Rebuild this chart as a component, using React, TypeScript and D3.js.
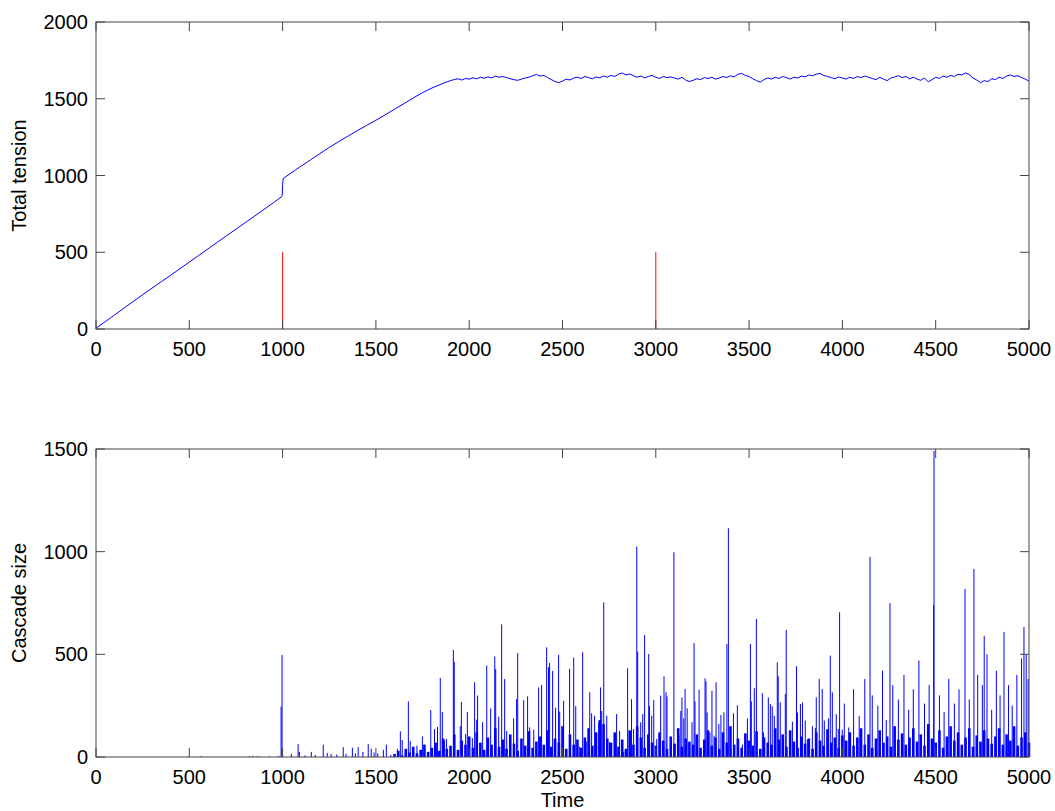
import React from 'react'
import * as d3 from 'd3'

// tick values
const xTicks = [0, 500, 1000, 1500, 2000, 2500, 3000, 3500, 4000, 4500, 5000]
const tensionTicks = [0, 500, 1000, 1500, 2000]
const cascadeTicks = [0, 500, 1000, 1500]

// red markers in the top panel
const markerTimes = [1000, 3000]
const markerHeight = 500

// total tension: loading phase as [time, value]
const risingTension: [number, number][] = [
  [0, 5], [50, 48], [100, 92], [150, 136], [200, 180], [250, 223], [300, 266], [350, 308],
  [400, 350], [450, 393], [500, 436], [550, 479], [600, 522], [650, 565], [700, 608],
  [750, 650], [800, 693], [850, 736], [900, 779], [950, 822], [995, 862], [998, 870],
  [1000, 940], [1003, 980], [1050, 1020], [1100, 1062], [1150, 1102], [1200, 1143],
  [1250, 1183], [1300, 1220], [1350, 1256], [1400, 1292], [1450, 1326], [1500, 1360],
  [1550, 1395], [1600, 1432], [1650, 1468], [1700, 1505], [1750, 1540], [1800, 1570],
  [1850, 1595], [1880, 1610],
]

// total tension: plateau, one value every 20 time units from 1900
const plateauStart = 1900
const plateauStep = 20
const plateauTension = [
  1618, 1625, 1630, 1622, 1632, 1628, 1636, 1630, 1640, 1634,
  1642, 1636, 1648, 1640, 1645, 1638, 1630, 1624, 1620, 1628,
  1635, 1640, 1650, 1658, 1648, 1652, 1638, 1625, 1612, 1605,
  1615, 1628, 1622, 1635, 1640, 1632, 1645, 1638, 1630, 1642,
  1636, 1648, 1640, 1652, 1645, 1660, 1668, 1655, 1662, 1650,
  1640, 1648, 1636, 1645, 1652, 1640, 1632, 1645, 1638, 1642,
  1635, 1628, 1640, 1622, 1612, 1620, 1630, 1625, 1638, 1632,
  1640, 1628, 1635, 1645, 1638, 1650, 1642, 1660, 1665, 1652,
  1645, 1630, 1618, 1608, 1625, 1635, 1628, 1640, 1632, 1645,
  1638, 1628, 1640, 1635, 1648, 1642, 1655, 1650, 1660, 1665,
  1652, 1645, 1638, 1630, 1642, 1635, 1628, 1640, 1632, 1645,
  1638, 1648, 1640, 1632, 1625, 1640, 1628, 1618, 1635, 1642,
  1650, 1638, 1645, 1630, 1640, 1628, 1620, 1635, 1610, 1625,
  1640, 1632, 1648, 1640, 1652, 1645, 1660, 1655, 1668, 1658,
  1635, 1622, 1605, 1618, 1612, 1630, 1625, 1640, 1632, 1648,
  1655, 1645, 1650, 1638, 1628, 1615,
]

// cascade sizes: individual events as [time, size]
const cascadeSpikes: [number, number][] = [
  [492, 3], [563, 4], [822, 4], [840, 5], [866, 4], [929, 3], [979, 5], [992, 246], [997, 497],
  [1047, 15], [1083, 63], [1090, 25], [1120, 8], [1154, 25], [1175, 10], [1218, 60], [1239, 20],
  [1260, 15], [1290, 12], [1325, 48], [1340, 15], [1374, 45], [1390, 18], [1405, 48], [1430, 25],
  [1459, 63], [1475, 40], [1490, 22], [1510, 18], [1540, 35], [1556, 60], [1580, 10], [1615, 40],
  [1631, 125], [1641, 83], [1660, 30], [1674, 271], [1684, 77], [1700, 40], [1720, 55], [1749, 100],
  [1760, 60], [1794, 229], [1814, 136], [1830, 146], [1845, 385], [1856, 219], [1867, 80], [1878, 88],
  [1915, 521], [1920, 464], [1952, 150], [1958, 268], [1981, 112], [1990, 219], [2017, 92],
  [2029, 364], [2040, 182], [2045, 299], [2072, 169], [2094, 445], [2115, 236], [2137, 490],
  [2142, 428], [2158, 196], [2174, 646], [2190, 380], [2201, 127], [2238, 188], [2254, 282],
  [2260, 506], [2292, 277], [2313, 295], [2324, 144], [2346, 133], [2372, 339], [2388, 351],
  [2415, 534], [2425, 437], [2431, 458], [2447, 419], [2463, 240], [2479, 497], [2485, 221],
  [2506, 274], [2538, 430], [2560, 484], [2571, 248], [2592, 50], [2608, 510], [2630, 75],
  [2646, 315], [2656, 213], [2672, 201], [2694, 169], [2704, 339], [2710, 224], [2721, 753],
  [2737, 201], [2752, 72], [2780, 88], [2790, 209], [2806, 127], [2828, 24], [2849, 432],
  [2870, 282], [2881, 136], [2898, 1024], [2903, 513], [2919, 169], [2930, 209], [2940, 594],
  [2962, 502], [2966, 248], [2978, 201], [2989, 277], [3005, 88], [3026, 299],
  [3044, 393], [3055, 315], [3060, 295], [3097, 997], [3102, 63], [3124, 104], [3134, 224],
  [3140, 290], [3150, 188], [3157, 331], [3168, 237], [3194, 169], [3205, 555], [3210, 271],
  [3232, 328], [3264, 383], [3269, 368], [3275, 217], [3290, 120], [3301, 322], [3312, 104],
  [3323, 364], [3338, 161], [3349, 205], [3365, 217], [3381, 550], [3389, 1114], [3403, 40],
  [3416, 213], [3437, 252], [3464, 60], [3491, 188], [3507, 550], [3512, 271], [3528, 335],
  [3539, 672], [3571, 311], [3577, 120], [3603, 290], [3614, 258], [3624, 247], [3635, 201],
  [3651, 461], [3656, 393], [3667, 266], [3683, 88], [3694, 307], [3699, 619], [3732, 172],
  [3754, 442], [3759, 217], [3775, 258], [3786, 266], [3801, 177], [3812, 85], [3839, 150],
  [3855, 141], [3860, 290], [3876, 380], [3892, 331], [3903, 177], [3925, 188], [3935, 494],
  [3946, 315], [3967, 209], [3978, 136], [3985, 705], [3999, 133], [4010, 260], [4034, 144],
  [4060, 330], [4090, 200], [4120, 380], [4148, 974], [4160, 300], [4190, 250], [4215, 420],
  [4235, 180], [4255, 750], [4270, 350], [4300, 280], [4330, 400], [4355, 230], [4380, 330],
  [4410, 470], [4440, 260], [4465, 350], [4489, 740], [4491, 1490], [4520, 300], [4545, 220],
  [4570, 380], [4600, 260], [4625, 330], [4657, 818], [4680, 280], [4705, 916], [4725, 400],
  [4750, 350], [4760, 590], [4775, 500], [4800, 230], [4825, 420], [4845, 300], [4866, 609],
  [4890, 350], [4910, 250], [4935, 400], [4960, 480], [4973, 633], [4985, 500], [4995, 380],
]

// cascade sizes: dense background activity, one value every 20 time units from 1600
const minorStart = 1600
const minorStep = 20
const cascadeMinor = [
  15, 30, 8, 40, 22, 50, 18, 35, 60, 25, 45,
  70, 30, 90, 40, 55, 110, 35, 80, 60, 100,
  45, 120, 70, 35, 95, 60, 140, 50, 85, 40, 110, 65, 30, 90, 55, 125, 45, 75, 100, 60,
  130, 50, 90, 70, 150, 40, 110, 60, 85, 45, 95, 140, 55, 120, 180, 160, 90, 70, 120, 50,
  85, 40, 130, 60, 150, 95, 45, 110, 70, 55, 120, 80, 40, 100, 65, 140, 50, 90, 75, 60,
  110, 45, 85, 130, 55, 95, 40, 120, 70, 150, 60, 90, 45, 115, 80, 55, 125, 40, 95, 70,
  60, 140, 85, 110, 50, 130, 75, 45, 100, 65, 90, 40, 120, 80, 55, 135, 70, 95, 45, 105,
  80, 120, 55, 95, 140, 60, 110, 45, 90, 130, 70, 100, 50, 150, 85, 115, 60, 95, 140, 75,
  110, 55, 160, 90, 70, 130, 45, 100, 150, 80, 120, 60, 95, 140, 50, 105, 75, 130, 90, 65,
  100, 140, 60, 110, 80, 150, 55, 95, 120, 70,
]

const W = 1055
const H = 811
const left = 96
const right = 1029
const topPanel = { top: 22, bottom: 329 }
const botPanel = { top: 449, bottom: 757 }
const axisColor = '#444'
const tickLen = 9
const font = 'Liberation Sans, Arial, sans-serif'

const x = d3.scaleLinear().domain([0, 5000]).range([left, right])
const yTension = d3.scaleLinear().domain([0, 2000]).range([topPanel.bottom, topPanel.top])
const yCascade = d3.scaleLinear().domain([0, 1500]).range([botPanel.bottom, botPanel.top])

function Frame({ y, ticks, top, bottom }: { y: d3.ScaleLinear<number, number>; ticks: number[]; top: number; bottom: number }) {
  return (
    <g>
      <rect x={left} y={top} width={right - left} height={bottom - top} fill="none" stroke={axisColor} strokeWidth={1} />
      {xTicks.map(t => (
        <g key={'x' + t}>
          <line x1={x(t)} x2={x(t)} y1={bottom} y2={bottom - tickLen} stroke={axisColor} />
          <line x1={x(t)} x2={x(t)} y1={top} y2={top + tickLen} stroke={axisColor} />
          <text x={x(t)} y={bottom + 27} textAnchor="middle" fontSize={20} fontFamily={font} fill="#000">{t}</text>
        </g>
      ))}
      {ticks.map(t => (
        <g key={'y' + t}>
          <line x1={left} x2={left + tickLen} y1={y(t)} y2={y(t)} stroke={axisColor} />
          <line x1={right} x2={right - tickLen} y1={y(t)} y2={y(t)} stroke={axisColor} />
          <text x={88} y={y(t) + 7} textAnchor="end" fontSize={20} fontFamily={font} fill="#000">{t}</text>
        </g>
      ))}
    </g>
  )
}

export default function App() {
  const tensionPoints: [number, number][] = [
    ...risingTension,
    ...plateauTension.map((v, i) => [plateauStart + i * plateauStep, v] as [number, number]),
  ]
  const tensionLine = d3.line<[number, number]>()
    .x(d => x(d[0]))
    .y(d => yTension(d[1]))(tensionPoints) || ''

  const minorPoints = cascadeMinor.map((v, i) => [minorStart + i * minorStep, v] as [number, number])

  return (
    <svg width={W} height={H} style={{ position: 'absolute', left: 0, top: 0, background: '#fff' }}>
      <rect width={W} height={H} fill="#fff" />

      {/* top panel */}
      <path d={tensionLine} fill="none" stroke="#0000ff" strokeWidth={1} />
      {markerTimes.map(t => (
        <line key={t} x1={x(t)} x2={x(t)} y1={yTension(0)} y2={yTension(markerHeight)} stroke="#ff0000" strokeWidth={1} />
      ))}
      <Frame y={yTension} ticks={tensionTicks} top={topPanel.top} bottom={topPanel.bottom} />
      <text transform={`translate(26,${(topPanel.top + topPanel.bottom) / 2}) rotate(-90)`} textAnchor="middle"
        fontSize={20} fontFamily={font} fill="#000">Total tension</text>

      {/* bottom panel */}
      {minorPoints.map(([t, v]) => (
        <line key={'m' + t} x1={x(t)} x2={x(t)} y1={yCascade(0)} y2={yCascade(v)} stroke="#0000ff" strokeWidth={2.6} />
      ))}
      {cascadeSpikes.map(([t, v]) => (
        <line key={'s' + t} x1={x(t)} x2={x(t)} y1={yCascade(0)} y2={yCascade(v)} stroke="#0000ff" strokeWidth={1} />
      ))}
      <Frame y={yCascade} ticks={cascadeTicks} top={botPanel.top} bottom={botPanel.bottom} />
      <text transform={`translate(26,${(botPanel.top + botPanel.bottom) / 2}) rotate(-90)`} textAnchor="middle"
        fontSize={20} fontFamily={font} fill="#000">Cascade size</text>
      <text x={(left + right) / 2} y={807} textAnchor="middle" fontSize={20} fontFamily={font} fill="#000">Time</text>
    </svg>
  )
}
